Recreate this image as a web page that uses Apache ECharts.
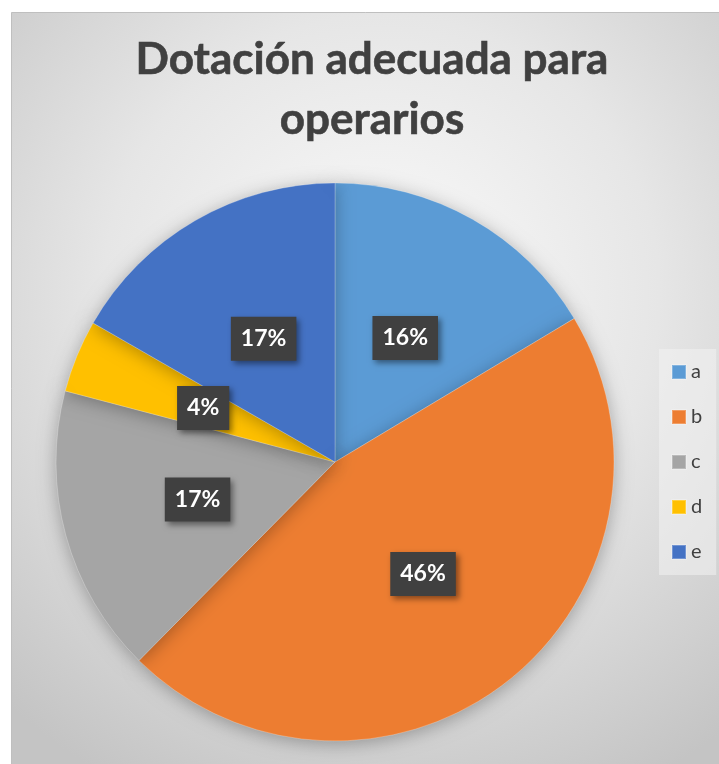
<!DOCTYPE html>
<html>
<head>
<meta charset="utf-8">
<script src="https://cdn.jsdelivr.net/npm/echarts@6/dist/echarts.min.js"></script>
<style>html,body{margin:0;padding:0;background:#fff;}#c{width:719px;height:764px;}</style>
</head>
<body>
<div id="c"></div>
<script>
const titleText = 'Dotación adecuada para\noperarios';
const categories = ['a', 'b', 'c', 'd', 'e'];
const values = [16.4, 46.0, 16.7, 4.2, 16.7];
const colors = ['#5b9bd5', '#ed7d31', '#a5a5a5', '#ffc000', '#4472c4'];

const chart = echarts.init(document.getElementById('c'));
chart.setOption({
  backgroundColor: '#ffffff',
  color: colors,
  animation: false,
  graphic: [{
    type: 'rect',
    z: -10,
    silent: true,
    shape: { x: 11.5, y: 12.5, width: 740, height: 780 },
    style: {
      fill: new echarts.graphic.RadialGradient(0.5, 0.36, 0.75, [
        { offset: 0, color: '#fbfbfb' },
        { offset: 0.5, color: '#e6e6e6' },
        { offset: 1, color: '#c4c4c4' }
      ]),
      stroke: '#bfbfbf',
      lineWidth: 1
    }
  }],
  title: {
    text: titleText,
    left: 372,
    top: 30,
    padding: 0,
    textAlign: 'center',
    textStyle: {
      fontFamily: 'Lato',
      fontWeight: 'bold',
      fontSize: 44,
      lineHeight: 60,
      color: '#404040',
      textBorderColor: '#404040',
      textBorderWidth: 0.6
    }
  },
  legend: {
    orient: 'vertical',
    left: 659,
    top: 349,
    padding: [13, 14, 13, 12],
    itemGap: 25,
    itemWidth: 14,
    itemHeight: 14,
    icon: 'rect',
    backgroundColor: 'rgba(242,242,242,0.55)',
    data: categories,
    textStyle: {
      fontFamily: 'Lato',
      fontSize: 20,
      color: '#404040'
    }
  },
  series: [{
    type: 'pie',
    center: [335, 462],
    radius: 279,
    startAngle: 90,
    clockwise: true,
    avoidLabelOverlap: false,
    itemStyle: {
      borderColor: 'rgba(255,255,255,0.25)',
      borderWidth: 1,
      shadowBlur: 18,
      shadowColor: 'rgba(0,0,0,0.3)',
      shadowOffsetY: 3
    },
    label: {
      show: true,
      position: 'inside',
      formatter: function (p) { return Math.round(p.percent) + '%'; },
      fontFamily: 'Lato',
      fontWeight: 'bold',
      fontSize: 23,
      lineHeight: 24,
      color: '#ffffff',
      backgroundColor: '#404040',
      padding: [10, 10, 10, 10],
      shadowBlur: 6,
      shadowOffsetX: 3,
      shadowOffsetY: 3,
      shadowColor: 'rgba(0,0,0,0.45)'
    },
    labelLine: { show: false },
    emphasis: { disabled: true },
    data: categories.map((n, i) => ({ name: n, value: values[i] }))
  }]
});
</script>
</body>
</html>
